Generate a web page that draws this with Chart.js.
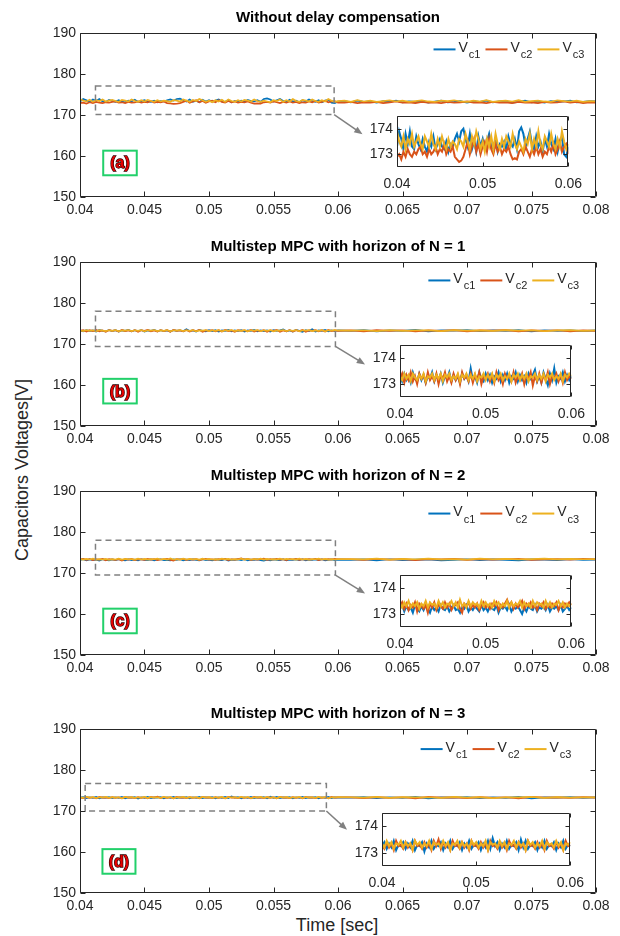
<!DOCTYPE html>
<html><head><meta charset="utf-8">
<script src="https://cdn.jsdelivr.net/npm/chart.js@4.4.1/dist/chart.umd.min.js"></script>
<style>
html,body{margin:0;padding:0;background:#fff;}
#wrap{position:relative;width:620px;height:936px;overflow:hidden;background:#fff;font-family:"Liberation Sans",Arial,sans-serif;color:#262626;}
canvas{position:absolute;}
#ylab{position:absolute;left:22px;top:470px;transform:translate(-50%,-50%) rotate(-90deg);font-size:18px;white-space:nowrap;}
#xlab{position:absolute;left:337px;top:925px;transform:translate(-50%,-50%);font-size:18px;white-space:nowrap;}
</style></head>
<body><div id="wrap"><div id="ylab">Capacitors Voltages[V]</div><div id="xlab">Time [sec]</div></div>
<script>
// ---------- DATA ----------
const panelTitles = ['Without delay compensation','Multistep MPC with horizon of N = 1','Multistep MPC with horizon of N = 2','Multistep MPC with horizon of N = 3'];
const panelTags = ['(a)','(b)','(c)','(d)'];
const seriesBase = 'V';
const seriesSubs = ['c1','c2','c3'];
const mainXTicks = [0.04,0.045,0.05,0.055,0.06,0.065,0.07,0.075,0.08];
const mainYTicks = [150,160,170,180,190];
const insetXTicks = [0.04,0.05,0.06];
const insetYTicks = [173,174];
const insetT0 = 0.04, insetDt = 0.00025; // zoomed window 0.04..0.06 sample times
const tailT0 = 0.06, tailSpan = 0.02;     // remainder 0.06..0.08

// (a) without delay compensation: 0.04..0.06
const vc1_a = [173.3,173.9,173.6,173.2,173.8,173.4,173.9,173.3,173.2,173.7,173.4,
173.2,173.6,173.3,173.1,173.5,173.3,173.7,173.2,173.4,173.6,
173.3,173.2,173.5,173.1,173.4,173.3,173.6,173.8,173.5,173.9,
174.0,173.6,173.3,173.8,173.2,173.5,173.1,173.7,173.3,173.6,
173.2,173.5,173.8,173.3,173.2,173.6,173.1,173.4,173.3,173.5,
173.2,173.7,173.4,173.3,173.6,173.2,173.9,174.05,173.8,173.3,
173.6,173.9,173.4,173.2,173.7,173.3,173.5,173.1,173.6,173.3,
173.8,173.4,173.2,173.6,173.1,173.5,173.7,173.0,172.9,173.3];
const vc2_a = [172.9,173.0,172.8,173.1,172.9,173.2,173.0,172.9,173.1,173.0,173.2,
173.3,173.0,173.1,172.9,173.2,173.0,173.1,173.3,173.0,173.2,
173.1,173.4,173.0,173.2,173.1,173.3,172.9,172.8,172.7,172.75,
172.9,173.2,173.5,173.0,173.3,173.6,173.1,173.4,173.0,173.3,
173.5,173.1,173.6,173.2,173.0,173.4,173.1,173.3,173.0,173.2,
173.1,173.3,173.0,172.8,172.85,172.8,173.1,173.2,173.0,173.3,
173.1,172.9,173.2,173.0,173.3,173.0,173.2,172.9,173.1,173.0,
173.3,173.1,173.4,173.0,173.2,173.5,173.1,173.3,173.4,173.0];
const vc3_a = [173.9,173.5,173.3,173.7,173.2,173.6,173.4,173.8,173.3,173.5,173.7,
173.4,173.2,173.7,173.5,173.3,173.8,173.4,173.2,173.6,173.3,
173.7,173.4,173.2,173.6,173.3,173.5,173.4,173.2,173.6,173.5,
173.3,173.8,173.5,173.2,173.7,173.4,173.9,173.6,173.2,173.5,
173.1,173.6,173.3,173.7,173.2,173.8,173.4,173.2,173.6,173.3,
173.7,173.5,173.3,173.8,173.4,173.2,173.5,173.3,173.1,173.6,
173.4,173.8,173.2,173.6,173.3,173.9,173.4,173.2,173.7,173.5,
173.3,173.8,173.4,173.2,173.6,173.3,173.9,173.5,173.2,173.4];
const vc1_a_tail = [173.4,173.1,173.5,173.2,173.3,173.0,173.4,173.2,173.5,173.1,173.3,173.2,173.4,173.0,173.3,173.5,173.1,173.2,173.4,173.0,173.3,173.2,173.5,173.1,173.3,173.4,173.0,173.2,173.5,173.1,173.3,173.0,173.4,173.2,173.3,173.5,173.1,173.2,173.4,173.3];
const vc2_a_tail = [173.0,173.2,172.9,173.1,173.0,173.2,172.9,173.1,173.3,173.0,173.1,172.9,173.2,173.0,173.1,172.9,173.2,173.0,173.1,173.3,173.0,173.1,172.9,173.2,173.0,173.1,172.9,173.2,173.0,173.1,172.9,173.2,173.0,173.1,173.3,173.0,173.2,172.9,173.1,173.0];
const vc3_a_tail = [173.5,173.2,173.6,173.3,173.5,173.2,173.4,173.6,173.3,173.5,173.2,173.4,173.6,173.3,173.2,173.5,173.4,173.6,173.3,173.2,173.5,173.3,173.6,173.2,173.4,173.5,173.3,173.6,173.2,173.4,173.5,173.3,173.2,173.6,173.4,173.3,173.5,173.2,173.4,173.3];

// (b) N = 1
const vc1_b = [173.35,173.10,173.40,173.15,173.30,173.05,173.45,173.20,173.10,173.40,
173.15,173.35,173.05,173.30,173.20,173.45,173.10,173.35,173.15,173.40,
173.05,173.30,173.20,173.45,173.10,173.35,173.15,173.30,173.05,173.40,
173.20,173.35,173.10,173.60,173.15,173.30,173.05,173.45,173.20,173.10,
173.40,173.15,173.35,173.05,173.30,173.20,173.45,173.10,173.35,173.15,
173.40,173.05,173.30,173.20,173.45,173.10,173.35,173.15,173.30,173.05,
173.40,173.20,173.35,173.55,173.10,173.30,173.05,173.45,173.20,172.95,
173.40,173.15,173.60,173.05,173.30,173.20,173.45,173.10,173.35,173.15,173.30];
const vc2_b = [173.20,173.40,173.05,173.35,173.15,173.45,173.10,173.30,173.00,173.40,
173.20,173.35,173.05,173.45,173.15,173.30,173.10,173.40,173.00,173.35,
173.20,173.45,173.10,173.30,173.05,173.40,173.15,173.35,173.00,173.45,
173.20,173.30,173.10,173.40,173.05,173.35,173.15,173.45,173.00,173.30,
173.20,173.40,173.10,173.35,173.05,173.45,173.15,173.30,173.00,173.40,
173.20,173.35,173.10,173.45,173.05,173.30,173.15,173.40,173.00,173.35,
173.20,173.45,172.95,173.30,173.10,173.40,173.05,173.35,173.15,173.45,
173.00,173.30,173.20,173.40,173.10,173.35,173.05,173.45,173.15,173.30,173.20];
const vc3_b = [173.30,173.15,173.40,173.20,173.35,173.10,173.40,173.25,173.15,173.35,
173.20,173.40,173.10,173.30,173.25,173.40,173.15,173.35,173.20,173.40,
173.10,173.35,173.25,173.40,173.15,173.30,173.20,173.40,173.10,173.35,
173.25,173.40,173.15,173.35,173.20,173.40,173.10,173.30,173.25,173.40,
173.15,173.35,173.20,173.40,173.10,173.35,173.25,173.40,173.15,173.30,
173.20,173.40,173.10,173.35,173.25,173.40,173.15,173.35,173.20,173.40,
173.10,173.30,173.25,173.40,173.15,173.35,173.20,173.40,173.10,173.35,
173.25,173.40,173.15,173.30,173.20,173.40,173.10,173.35,173.25,173.40,173.30];
const vc1_b_tail = [173.2,173.4,173.1,173.3,173.2,173.45,173.1,173.3,173.25,173.4,173.15,173.3,173.2,173.4,173.1,173.35,173.2,173.3,173.15,173.3];
const vc2_b_tail = [173.3,173.1,173.4,173.2,173.35,173.05,173.3,173.2,173.4,173.1,173.3,173.25,173.4,173.1,173.3,173.2,173.35,173.1,173.3,173.2];
const vc3_b_tail = [173.25,173.35,173.15,173.4,173.2,173.3,173.35,173.15,173.4,173.25,173.3,173.2,173.4,173.25,173.35,173.15,173.3,173.4,173.2,173.3];

// (c) N = 2
const vc1_c = [173.20,173.35,173.10,173.30,173.15,173.25,173.05,173.35,173.20,173.10,
173.30,173.15,173.35,173.20,173.05,173.30,173.15,173.25,173.10,173.35,
173.20,173.15,173.30,173.10,173.25,173.35,173.15,173.20,173.05,173.30,
173.20,173.35,173.10,173.25,173.15,173.30,173.20,173.10,173.35,173.15,
173.25,173.10,173.30,173.20,173.15,173.35,173.05,173.25,173.20,173.30,
173.15,173.35,173.10,173.25,173.20,173.30,173.15,173.00,173.25,173.10,
173.30,173.20,173.15,173.35,173.10,173.25,173.20,173.30,173.15,173.35,
173.10,173.25,173.20,173.30,173.15,173.35,173.10,173.20,173.30,173.15,173.25];
const vc2_c = [173.30,173.45,173.20,173.40,173.15,173.35,173.25,173.45,173.10,173.40,
173.30,173.20,173.35,173.05,173.40,173.25,173.45,173.15,173.35,173.30,
173.20,173.45,173.25,173.40,173.15,173.30,173.35,173.45,173.20,173.05,
173.40,173.30,173.45,173.20,173.35,173.25,173.40,173.15,173.30,173.45,
173.25,173.35,173.20,173.40,173.30,173.45,173.15,173.35,173.25,173.40,
173.55,173.30,173.45,173.20,173.40,173.25,173.35,173.50,173.20,173.40,
173.30,173.45,173.25,173.35,173.15,173.40,173.30,173.45,173.20,173.35,
173.25,173.40,173.30,173.45,173.15,173.35,173.25,173.40,173.30,173.45,173.35];
const vc3_c = [173.40,173.25,173.45,173.30,173.50,173.25,173.40,173.30,173.45,173.20,
173.40,173.30,173.50,173.25,173.45,173.35,173.40,173.25,173.50,173.30,
173.45,173.25,173.40,173.35,173.50,173.30,173.45,173.25,173.55,173.30,
173.40,173.25,173.50,173.30,173.45,173.35,173.40,173.25,173.50,173.30,
173.45,173.30,173.40,173.25,173.50,173.35,173.45,173.25,173.40,173.30,
173.50,173.25,173.45,173.30,173.40,173.35,173.50,173.25,173.45,173.30,
173.40,173.25,173.50,173.30,173.45,173.35,173.40,173.25,173.50,173.30,
173.45,173.25,173.40,173.35,173.50,173.30,173.45,173.25,173.40,173.30,173.40];
const vc1_c_tail = [173.2,173.3,173.1,173.35,173.15,173.25,173.3,173.1,173.2,173.35,173.15,173.3,173.2,173.1,173.3,173.25,173.15,173.35,173.2,173.25];
const vc2_c_tail = [173.35,173.2,173.45,173.25,173.4,173.15,173.35,173.3,173.45,173.2,173.4,173.25,173.35,173.45,173.2,173.3,173.4,173.25,173.45,173.3];
const vc3_c_tail = [173.4,173.3,173.5,173.25,173.45,173.35,173.5,173.3,173.4,173.25,173.5,173.35,173.45,173.3,173.4,173.5,173.3,173.45,173.35,173.4];

// (d) N = 3
const vc1_d = [173.25,173.40,173.15,173.35,173.20,173.45,173.10,173.30,173.25,173.40,
173.15,173.35,173.20,173.45,173.10,173.30,173.25,173.40,173.05,173.35,
173.20,173.45,173.15,173.30,173.25,173.40,173.10,173.35,173.20,173.45,
173.15,173.30,173.25,173.40,173.10,173.35,173.20,173.45,173.15,173.30,
173.25,173.40,173.10,173.35,173.20,173.45,173.15,173.55,173.25,173.40,
173.10,173.35,173.20,173.45,173.15,173.30,173.25,173.40,173.10,173.50,
173.20,173.45,173.15,173.30,173.25,173.40,173.10,173.35,173.20,173.45,
173.15,173.30,173.25,173.40,173.10,173.35,173.20,173.45,173.15,173.30,173.25];
const vc2_d = [173.30,173.15,173.40,173.20,173.35,173.10,173.45,173.25,173.30,173.15,
173.40,173.20,173.35,173.10,173.45,173.25,173.30,173.15,173.40,173.20,
173.35,173.10,173.45,173.25,173.50,173.15,173.40,173.20,173.35,173.10,
173.45,173.25,173.30,173.15,173.40,173.20,173.35,173.10,173.45,173.25,
173.30,173.15,173.40,173.20,173.35,173.10,173.45,173.25,173.30,173.15,
173.40,173.20,173.35,173.10,173.45,173.25,173.30,173.15,173.40,173.20,
173.35,173.10,173.45,173.25,173.30,173.15,173.40,173.20,173.35,173.10,
173.45,173.25,173.30,173.15,173.40,173.20,173.35,173.10,173.45,173.25,173.30];
const vc3_d = [173.35,173.20,173.45,173.25,173.40,173.15,173.35,173.30,173.45,173.20,
173.40,173.25,173.35,173.10,173.45,173.30,173.40,173.20,173.35,173.25,
173.45,173.15,173.40,173.30,173.35,173.20,173.45,173.25,173.40,173.10,
173.35,173.30,173.45,173.20,173.40,173.25,173.35,173.15,173.45,173.30,
173.40,173.20,173.35,173.25,173.45,173.10,173.40,173.30,173.35,173.20,
173.45,173.25,173.40,173.15,173.35,173.30,173.45,173.20,173.40,173.25,
173.35,173.10,173.45,173.30,173.40,173.20,173.35,173.25,173.45,173.15,
173.40,173.30,173.35,173.20,173.45,173.25,173.40,173.10,173.35,173.30,173.40];
const vc1_d_tail = [173.25,173.4,173.15,173.35,173.2,173.45,173.1,173.3,173.25,173.4,173.15,173.35,173.2,173.45,173.1,173.3,173.25,173.4,173.2,173.3];
const vc2_d_tail = [173.3,173.15,173.4,173.2,173.35,173.1,173.45,173.25,173.3,173.15,173.4,173.2,173.35,173.1,173.45,173.25,173.3,173.2,173.4,173.25];
const vc3_d_tail = [173.35,173.25,173.45,173.2,173.4,173.3,173.35,173.2,173.45,173.25,173.4,173.15,173.35,173.3,173.45,173.2,173.4,173.25,173.35,173.3];

// ---------- LAYOUT / STYLE ----------
const COLORS = ['#0072BD','#D95319','#EDB120'];
const AX = '#262626';
const FONT = '"Liberation Sans", Arial, Helvetica, sans-serif';
const TICK_FS = 14;
const PLOT_L = 80, PLOT_R = 596, PLOT_H = 164;
const PANEL_TOPS = [33, 262, 491, 729];
const panelSeries = [
  [[vc1_a,vc1_a_tail],[vc2_a,vc2_a_tail],[vc3_a,vc3_a_tail]],
  [[vc1_b,vc1_b_tail],[vc2_b,vc2_b_tail],[vc3_b,vc3_b_tail]],
  [[vc1_c,vc1_c_tail],[vc2_c,vc2_c_tail],[vc3_c,vc3_c_tail]],
  [[vc1_d,vc1_d_tail],[vc2_d,vc2_d_tail],[vc3_d,vc3_d_tail]]
];
const deco = [
  {rect:[0.0412,0.0597,170.1,177.1], arrow:[0.0597,170.1,0.0619,165.3], inX:[0.0646,0.0782], inY:[157.3,169.75], tag:[0.0418,0.0444,155.3,161.3], legend:[0.0791,186.0]},
  {rect:[0.0412,0.0598,169.4,178.0], arrow:[0.0598,169.4,0.0621,165.0], inX:[0.0648,0.07845], inY:[157.1,169.75], tag:[0.0418,0.0444,155.5,161.5], legend:[0.0787,185.5]},
  {rect:[0.0412,0.0598,169.5,178.0], arrow:[0.0598,169.5,0.0621,165.0], inX:[0.0648,0.07845], inY:[156.8,169.5], tag:[0.0418,0.0444,155.3,161.3], legend:[0.0787,184.5]},
  {rect:[0.0404,0.0591,170.0,176.7], arrow:[0.0591,170.0,0.0607,165.4], inX:[0.0634,0.0784], inY:[156.7,169.4], tag:[0.04174,0.0443,154.7,160.7], legend:[0.0781,185.1]}
];

function timesFor(n, t0, dt){ const t=[]; for(let i=0;i<n;i++) t.push(t0+i*dt); return t; }
function toXY(ts, vs){ return vs.map((v,i)=>({x:ts[i], y:v})); }

Chart.defaults.font.family = FONT;
Chart.defaults.font.size = TICK_FS;
Chart.defaults.color = AX;
Chart.defaults.animation = false;

const boxPlugin = {
  id:'mbox',
  afterDatasetsDraw(chart, args, o){
    const {ctx, chartArea:a, scales:{x,y}} = chart;
    const tl = o.tickLen || 5;
    ctx.save();
    ctx.strokeStyle = AX; ctx.lineWidth = 1;
    ctx.beginPath();
    const L=Math.round(a.left)+0.5, R=Math.round(a.right)-0.5, T=Math.round(a.top)+0.5, B=Math.round(a.bottom)-0.5;
    ctx.rect(L,T,R-L,B-T);
    x.ticks.forEach(t=>{ const p=Math.round(x.getPixelForValue(t.value))+0.5; ctx.moveTo(p,B); ctx.lineTo(p,B-tl); ctx.moveTo(p,T); ctx.lineTo(p,T+tl); });
    y.ticks.forEach(t=>{ const p=Math.round(y.getPixelForValue(t.value))+0.5; ctx.moveTo(L,p); ctx.lineTo(L+tl,p); ctx.moveTo(R,p); ctx.lineTo(R-tl,p); });
    ctx.stroke();
    ctx.restore();
  }
};
const whiteBg = {
  id:'wbg',
  beforeDatasetsDraw(chart){ const {ctx, chartArea:a}=chart; ctx.save(); ctx.fillStyle='#fff'; ctx.fillRect(a.left,a.top,a.width,a.height); ctx.restore(); }
};
const annotPlugin = {
  id:'annot',
  afterDraw(chart, args, o){
    if(!o || !o.title) return;
    const {ctx, chartArea:a, scales:{x,y}} = chart;
    const X=v=>x.getPixelForValue(v), Y=v=>y.getPixelForValue(v);
    const d=o.deco;
    ctx.save();
    ctx.font='bold 15px '+FONT; ctx.fillStyle='#000'; ctx.textAlign='center'; ctx.textBaseline='middle';
    ctx.fillText(o.title,(a.left+a.right)/2,a.top-15);
    // dashed zoom rectangle
    ctx.setLineDash([6,4]); ctx.strokeStyle='#808080'; ctx.lineWidth=1.5;
    ctx.strokeRect(X(d.rect[0]),Y(d.rect[3]),X(d.rect[1])-X(d.rect[0]),Y(d.rect[2])-Y(d.rect[3]));
    ctx.setLineDash([]);
    // arrow
    const x1=X(d.arrow[0]),y1=Y(d.arrow[1]),x2=X(d.arrow[2]),y2=Y(d.arrow[3]);
    const ang=Math.atan2(y2-y1,x2-x1), hl=9;
    ctx.beginPath(); ctx.moveTo(x1,y1); ctx.lineTo(x2-Math.cos(ang)*hl*0.7,y2-Math.sin(ang)*hl*0.7); ctx.stroke();
    ctx.fillStyle='#808080'; ctx.beginPath(); ctx.moveTo(x2,y2);
    ctx.lineTo(x2-hl*Math.cos(ang-0.38),y2-hl*Math.sin(ang-0.38));
    ctx.lineTo(x2-hl*Math.cos(ang+0.38),y2-hl*Math.sin(ang+0.38)); ctx.closePath(); ctx.fill();
    // tag box
    const tx0=X(d.tag[0]),tx1=X(d.tag[1]),ty0=Y(d.tag[3]),ty1=Y(d.tag[2]);
    ctx.strokeStyle='#22d06a'; ctx.lineWidth=2; ctx.strokeRect(tx0,ty0,tx1-tx0,ty1-ty0);
    ctx.font='bold 16px '+FONT; ctx.textAlign='center'; ctx.textBaseline='middle';
    const cx=(tx0+tx1)/2, cy=(ty0+ty1)/2+1;
    ctx.lineWidth=1.3; ctx.strokeStyle='#2a0000'; ctx.strokeText(o.tag,cx,cy);
    ctx.fillStyle='#e40000'; ctx.fillText(o.tag,cx,cy);
    // legend
    ctx.textAlign='left'; ctx.textBaseline='middle';
    const lineLen=22;
    ctx.font='14px '+FONT; const wV=ctx.measureText(seriesBase).width;
    ctx.font='11px '+FONT; const wS=seriesSubs.map(s=>ctx.measureText(s).width);
    const itemW=wS.map(w=>lineLen+3+wV+1+w+5);
    let lx=X(d.legend[0])-itemW.reduce((s,v)=>s+v,0)+5;
    const ly=Y(d.legend[1]);
    seriesSubs.forEach((s,i)=>{
      ctx.strokeStyle=COLORS[i]; ctx.lineWidth=2;
      ctx.beginPath(); ctx.moveTo(lx,ly); ctx.lineTo(lx+lineLen,ly); ctx.stroke();
      ctx.fillStyle=AX; ctx.font='14px '+FONT; ctx.fillText(seriesBase,lx+lineLen+3,ly-1);
      ctx.font='11px '+FONT; ctx.fillText(s,lx+lineLen+3+wV+1,ly+6);
      lx+=itemW[i];
    });
    ctx.restore();
  }
};

const wrap = document.getElementById('wrap');
function makeCanvas(left, top, w, h){
  const c=document.createElement('canvas'); c.width=w; c.height=h;
  c.style.left=left+'px'; c.style.top=top+'px'; c.style.width=w+'px'; c.style.height=h+'px';
  wrap.appendChild(c); return c;
}
const fmt = v => String(+(+v).toFixed(3));

PANEL_TOPS.forEach((pt, p) => {
  const TOP_PAD=33, XAX_H=30;
  const H = TOP_PAD+PLOT_H+XAX_H;
  const cv = makeCanvas(0, pt-TOP_PAD, 620, H);
  const series = panelSeries[p];
  const datasets = series.map((s,i)=>{
    const tIn = timesFor(s[0].length, insetT0, insetDt);
    const tTail = timesFor(s[1].length, tailT0+tailSpan/s[1].length, tailSpan/s[1].length);
    return {label:seriesBase+seriesSubs[i], data: toXY(tIn,s[0]).concat(toXY(tTail,s[1])),
      borderColor:COLORS[i], borderWidth:1.7, pointRadius:0, tension:0, fill:false, order:3-i};
  });
  const main = new Chart(cv, {
    type:'line',
    data:{datasets},
    options:{
      responsive:false, devicePixelRatio:1, animation:false,
      layout:{padding:{left:0,right:620-PLOT_R,top:TOP_PAD,bottom:0}},
      plugins:{legend:{display:false}, tooltip:{enabled:false},
        mbox:{tickLen:5}, annot:{title:panelTitles[p], tag:panelTags[p], deco:deco[p]}},
      scales:{
        x:{type:'linear', min:0.04, max:0.08,
          afterBuildTicks:s=>{s.ticks=mainXTicks.map(v=>({value:v}));},
          afterFit:s=>{s.height=XAX_H;},
          grid:{display:false, drawTicks:false}, border:{display:false},
          ticks:{padding:5, maxRotation:0, autoSkip:false, callback:fmt, color:AX, font:{size:TICK_FS}}},
        y:{type:'linear', min:150, max:190,
          afterBuildTicks:s=>{s.ticks=mainYTicks.map(v=>({value:v}));},
          afterFit:s=>{s.width=PLOT_L;},
          grid:{display:false, drawTicks:false}, border:{display:false},
          ticks:{padding:4, autoSkip:false, color:AX, font:{size:TICK_FS}}}
      }
    },
    plugins:[boxPlugin, annotPlugin]
  });
  // inset
  const d = deco[p];
  const X=v=>main.scales.x.getPixelForValue(v), Y=v=>main.scales.y.getPixelForValue(v);
  const bx0=Math.round(X(d.inX[0])), bx1=Math.round(X(d.inX[1]));
  const by0=Math.round(pt-TOP_PAD+Y(d.inY[1])), by1=Math.round(pt-TOP_PAD+Y(d.inY[0]));
  const WY=34, HX=28, PT=16, PR=18;
  const icv = makeCanvas(bx0-WY, by0-PT, (bx1-bx0)+WY+PR, (by1-by0)+PT+HX);
  const idatasets = series.map((s,i)=>({
    data: toXY(timesFor(s[0].length, insetT0, insetDt), s[0]),
    borderColor:COLORS[i], borderWidth:2, pointRadius:0, tension:0, fill:false, order:3-i}));
  new Chart(icv, {
    type:'line',
    data:{datasets:idatasets},
    options:{
      responsive:false, devicePixelRatio:1, animation:false,
      layout:{padding:{left:0,right:PR,top:PT,bottom:0}},
      plugins:{legend:{display:false}, tooltip:{enabled:false}, mbox:{tickLen:4}},
      scales:{
        x:{type:'linear', min:0.04, max:0.06,
          afterBuildTicks:s=>{s.ticks=insetXTicks.map(v=>({value:v}));},
          afterFit:s=>{s.height=HX;},
          grid:{display:false, drawTicks:false}, border:{display:false},
          ticks:{padding:9, maxRotation:0, autoSkip:false, callback:fmt, color:AX, font:{size:TICK_FS}}},
        y:{type:'linear', min:172.5, max:174.5,
          afterBuildTicks:s=>{s.ticks=insetYTicks.map(v=>({value:v}));},
          afterFit:s=>{s.width=WY;},
          grid:{display:false, drawTicks:false}, border:{display:false},
          ticks:{padding:4, autoSkip:false, color:AX, font:{size:TICK_FS}}}
      }
    },
    plugins:[whiteBg, boxPlugin]
  });
});
</script>
</body></html>
